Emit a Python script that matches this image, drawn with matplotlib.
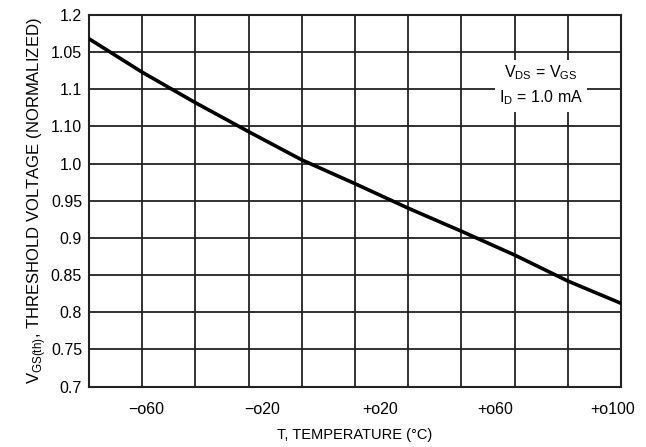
import numpy as np
import matplotlib
matplotlib.use('Agg')
import matplotlib.pyplot as plt

plt.rcParams['font.family'] = ['Liberation Sans', 'DejaVu Sans']

# curve
temp = [-80, -62, -44, -26, -8, 10, 28, 46, 64, 82, 100]
vth = [1.168, 1.123, 1.082, 1.043, 1.005, 0.973, 0.940, 0.909, 0.877, 0.842, 0.812]

xticks = [-60.5, -21.5, 18.5, 57.5, 97]
xlabels = ['\u2212o60', '\u2212o20', '+o20', '+o60', '+o100']
yticks = [1.2, 1.15, 1.1, 1.05, 1.0, 0.95, 0.9, 0.85, 0.8, 0.75, 0.7]
ylabels = ['1.2', '1.05', '1.1', '1.10', '1.0', '0.95', '0.9', '0.85', '0.8', '0.75', '0.7']

fig = plt.figure(figsize=(6.46, 4.47), dpi=100)
ax = fig.add_axes([0.1378, 0.1353, 0.8235, 0.8311])

for g in np.linspace(-80, 100, 11)[1:-1]:
    ax.axvline(g, color='#222222', lw=1.3, zorder=1)
for g in yticks[1:-1]:
    ax.axhline(g, color='#222222', lw=1.3, zorder=1)

ax.plot(temp, vth, color='black', lw=2.6, zorder=3)

ax.set_xlim(-80, 100)
ax.set_ylim(0.7, 1.2)
ax.set_xticks(xticks)
ax.set_xticklabels(xlabels)
ax.set_yticks(yticks)
ax.set_yticklabels(ylabels)
ax.tick_params(axis='both', length=0, labelsize=11.5)
ax.tick_params(axis='x', pad=11)
ax.tick_params(axis='y', pad=5)
for s in ax.spines.values():
    s.set_linewidth(1.5)
    s.set_color('#222222')

ax.set_xlabel('T, TEMPERATURE (\u00b0C)', fontsize=10.5, labelpad=8)
ax.set_ylabel(r'V$_{\mathregular{GS(th)}}$, THRESHOLD VOLTAGE (NORMALIZED)', fontsize=12, labelpad=2)

ax.text(0.85, 0.81, 'V$_{\\mathregular{DS}}$ = V$_{\\mathregular{GS}}$\nI$_{\\mathregular{D}}$ = 1.0 mA',
        transform=ax.transAxes, ha='center', va='center', fontsize=11.5, linespacing=1.45,
        bbox=dict(facecolor='white', edgecolor='none', pad=3), zorder=4)

fig.savefig('out.png', dpi=100)
